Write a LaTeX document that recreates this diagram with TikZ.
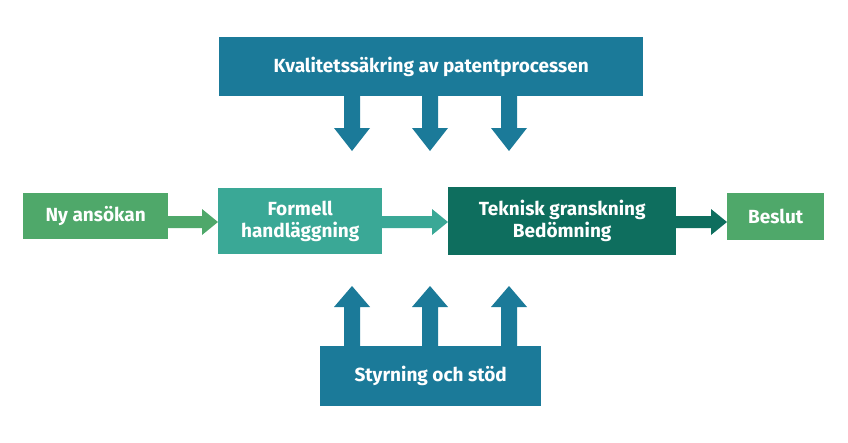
\documentclass[tikz,border=0pt]{standalone}
\usepackage{fontspec}
\setmainfont{Fira Sans}
\definecolor{topblue}{HTML}{1B7A99}
\definecolor{lgreen}{HTML}{4FA86A}
\definecolor{teal1}{HTML}{3AA896}
\definecolor{dteal}{HTML}{0E6E5E}
\tikzset{
 box/.style={fill=#1, text=white, font=\fontsize{19}{22}\selectfont\bfseries, align=center, inner sep=0pt, anchor=north west},
 bigarrow/.style={fill=topblue, draw=none},
}
\begin{document}
\begin{tikzpicture}[x=1pt,y=-1pt]
\useasboundingbox (0,0) rectangle (848,442);
\node[box=topblue, minimum width=424, minimum height=59] (q) at (219,37) {Kvalitetssäkring av patentprocessen};
\node[box=topblue, minimum width=221, minimum height=60] (s) at (320,346) {Styrning och stöd};
\node[box=lgreen, minimum width=145, minimum height=46] (n) at (23,193) {Ny ansökan};
\node[box=teal1, minimum width=164, minimum height=66] (f) at (218,188) {Formell\\handläggning};
\node[box=dteal, minimum width=228, minimum height=68] (t) at (448,187) {Teknisk granskning\\Bedömning};
\node[box=lgreen, minimum width=97, minimum height=47] (b) at (727,193) {Beslut};
\foreach \x in {352,430,509}{
 \fill[topblue] (\x-8,96) -- (\x+8,96) -- (\x+8,128) -- (\x+18,128) -- (\x,151) -- (\x-18,128) -- (\x-8,128) -- cycle;
 \fill[topblue] (\x-8,346) -- (\x+8,346) -- (\x+8,307) -- (\x+18,307) -- (\x,286) -- (\x-18,307) -- (\x-8,307) -- cycle;
}
\foreach \a/\b/\c in {168/218/lgreen,382/448/teal1,676/727/dteal}{
 \fill[\c] (\a,216) -- (\b-16,216) -- (\b-16,209) -- (\b,222) -- (\b-16,235) -- (\b-16,228) -- (\a,228) -- cycle;
}
\end{tikzpicture}
\end{document}
